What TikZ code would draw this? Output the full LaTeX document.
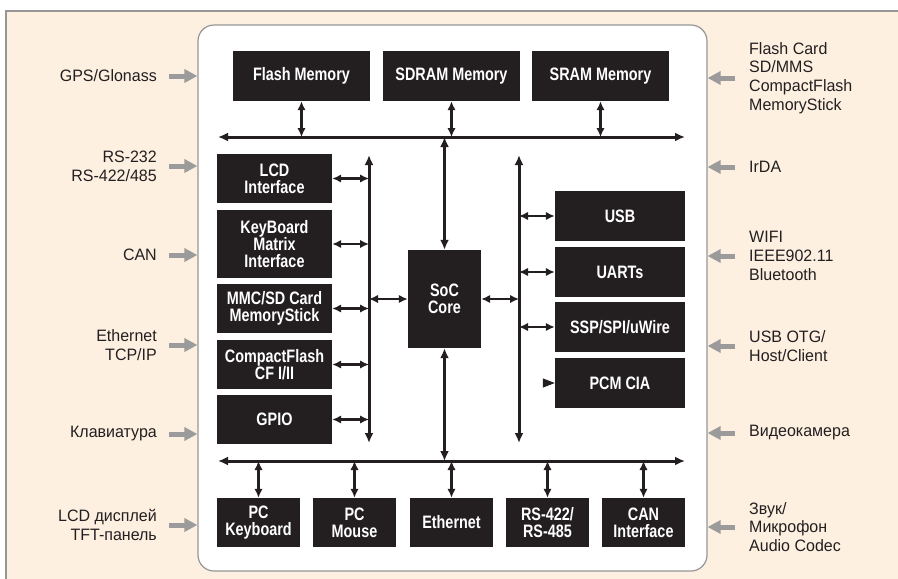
\documentclass[tikz,border=0pt]{standalone}
\usepackage{fontspec}
\setmainfont{Liberation Sans}[FakeStretch=0.97]
\newfontfamily\blockfont{Liberation Sans}[FakeStretch=0.8]
\usepackage{tikz}
\usetikzlibrary{positioning,calc}
\usetikzlibrary{arrows.meta}
\definecolor{beige}{RGB}{253,240,225}
\definecolor{framegray}{RGB}{150,150,150}
\definecolor{blockblack}{RGB}{35,31,32}
\definecolor{pingray}{RGB}{155,155,155}
\tikzstyle{bus} = [line width=3pt,blockblack,{Latex[length=10pt,width=9pt]}-{Latex[length=10pt,width=9pt]}]
\tikzstyle{link} = [line width=2.4pt,blockblack,{Latex[length=9pt,width=8.5pt]}-{Latex[length=9pt,width=8.5pt]}]
\tikzstyle{pin} = [line width=5pt,pingray,-{Triangle[length=13pt,width=13pt]}]

\begin{document}
\begin{tikzpicture}[x=1pt,y=-1pt,
	block/.style={fill=blockblack, text=white, font=\blockfont\bfseries\fontsize{18}{17.3}\selectfont, align=center, inner sep=0pt},
	outer/.style={text=blockblack, font=\fontsize{16.5}{18.7}\selectfont, inner sep=0pt}]
		\useasboundingbox (0,0) rectangle (898,579);
		
		% BACKGROUND
		
		\fill[beige] (6,11) rectangle (898,579);
		\draw[framegray, line width=1.2pt] (6,579) |- (898,11);
		\node [draw=framegray, line width=1.2pt, fill=white, rounded corners=16pt, minimum width=509pt, minimum height=546pt] (board) at (452.5,298) {};
		
		% MEMORIES
		
		\node [block, minimum width=137pt, minimum height=50pt] (flash) at (301.5,76) {Flash Memory};
		\node [block, minimum width=137pt, minimum height=50pt] (sdram) at (451.5,76) {SDRAM Memory};
		\node [block, minimum width=137pt, minimum height=50pt] (sram) at (600.5,76) {SRAM Memory};
		
		% LEFT BLOCKS
		
		\node [block, minimum width=115pt, minimum height=49pt] (lcd) at (274.5,178.5) {LCD\\Interface};
		\node [block, minimum width=115pt, minimum height=68pt] (keyboard) at (274.5,244) {KeyBoard\\Matrix\\Interface};
		\node [block, minimum width=115pt, minimum height=49pt] (mmc) at (274.5,308.5) {MMC/SD Card\\MemoryStick};
		\node [block, minimum width=115pt, minimum height=49pt] (cf) at (274.5,364.5) {CompactFlash\\CF I/II};
		\node [block, minimum width=115pt, minimum height=49pt] (gpio) at (274.5,419.5) {GPIO};
		
		% CORE
		
		\node [block, minimum width=73pt, minimum height=98pt] (soc) at (444.5,299) {SoC\\Core};
		
		% RIGHT BLOCKS
		
		\node [block, minimum width=130pt, minimum height=50pt] (usb) at (620,216) {USB};
		\node [block, minimum width=130pt, minimum height=50pt] (uarts) at (620,272) {UARTs};
		\node [block, minimum width=130pt, minimum height=50pt] (ssp) at (620,327) {SSP/SPI/uWire};
		\node [block, minimum width=130pt, minimum height=50pt] (pcm) at (620,383) {PCM CIA};
		
		% BOTTOM BLOCKS
		
		\node [block, minimum width=83pt, minimum height=49pt] (pckbd) at (258.5,522.5) {PC\\Keyboard};
		\node [block, minimum width=83pt, minimum height=49pt] (pcmouse) at (354.5,522.5) {PC\\Mouse};
		\node [block, minimum width=83pt, minimum height=49pt] (ethernet) at (451.5,522.5) {Ethernet};
		\node [block, minimum width=83pt, minimum height=49pt] (rs) at (547.5,522.5) {RS-422/\\RS-485};
		\node [block, minimum width=83pt, minimum height=49pt] (can) at (643.5,522.5) {CAN\\Interface};
		
		% BUSES
		
		\coordinate (topbusL) at (218,137);
		\coordinate (topbusR) at (685,137);
		\coordinate (botbusL) at (218,461);
		\coordinate (botbusR) at (685,461);
		\coordinate (lbusT) at (369,155);
		\coordinate (lbusB) at (369,443);
		\coordinate (rbusT) at (519,155);
		\coordinate (rbusB) at (519,443);
		\draw[bus] (topbusL) -- (topbusR);
		\draw[bus] (botbusL) -- (botbusR);
		\draw[bus] (lbusT) -- (lbusB);
		\draw[bus] (rbusT) -- (rbusB);
		
		% LINKS
		
		\draw[link] (flash.south) -- (flash.south |- topbusL);
		\draw[link] (sdram.south) -- (sdram.south |- topbusL);
		\draw[link] (sram.south) -- (sram.south |- topbusL);
		\draw[link] (lcd.east) -- (lcd.east -| lbusT);
		\draw[link] (keyboard.east) -- (keyboard.east -| lbusT);
		\draw[link] (mmc.east) -- (mmc.east -| lbusT);
		\draw[link] (cf.east) -- (cf.east -| lbusT);
		\draw[link] (gpio.east) -- (gpio.east -| lbusT);
		\draw[link] (lbusT |- soc.west) -- (soc.west);
		\draw[link] (soc.east) -- (soc.east -| rbusT);
		\draw[bus] (soc.north) -- (soc.north |- topbusL);
		\draw[bus] (soc.south) -- (soc.south |- botbusL);
		\draw[link] (rbusT |- usb.west) -- (usb.west);
		\draw[link] (rbusT |- uarts.west) -- (uarts.west);
		\draw[link] (rbusT |- ssp.west) -- (ssp.west);
		\draw[blockblack, line width=1pt, -{Triangle[length=12pt,width=9pt]}] ([xshift=-12pt]pcm.west) -- (pcm.west);
		\draw[link] (pckbd.north) -- (pckbd.north |- botbusL);
		\draw[link] (pcmouse.north) -- (pcmouse.north |- botbusL);
		\draw[link] (ethernet.north) -- (ethernet.north |- botbusL);
		\draw[link] (rs.north) -- (rs.north |- botbusL);
		\draw[link] (can.north) -- (can.north |- botbusL);
		
		% OUTSIDE WORLD
		
		\node [outer, anchor=east, align=right] (gps) at (157,76) {GPS/Glonass};
		\node [outer, anchor=east, align=right] (rs232) at (157,166) {RS-232\\RS-422/485};
		\node [outer, anchor=east, align=right] (canbus) at (157,255) {CAN};
		\node [outer, anchor=east, align=right] (tcpip) at (157,345) {Ethernet\\TCP/IP};
		\node [outer, anchor=east, align=right] (klav) at (157,434) {Клавиатура};
		\node [outer, anchor=east, align=right] (display) at (157,525) {LCD дисплей\\TFT-панель};
		\node [outer, anchor=west, align=left] (flashcard) at (749,78) {Flash Card\\SD/MMS\\CompactFlash\\MemoryStick};
		\node [outer, anchor=west, align=left] (irda) at (749,167) {IrDA};
		\node [outer, anchor=west, align=left] (wifi) at (749,256) {WIFI\\IEEE902.11\\Bluetooth};
		\node [outer, anchor=west, align=left] (otg) at (749,346) {USB OTG/\\Host/Client};
		\node [outer, anchor=west, align=left] (video) at (749,433) {Видеокамера};
		\node [outer, anchor=west, align=left] (sound) at (749,527) {Звук/\\Микрофон\\Audio Codec};
		
		\draw[pin] ([xshift=12pt]gps.east) -- (gps.east -| board.west);
		\draw[pin] ([xshift=12pt]rs232.east) -- (rs232.east -| board.west);
		\draw[pin] ([xshift=12pt]canbus.east) -- (canbus.east -| board.west);
		\draw[pin] ([xshift=12pt]tcpip.east) -- (tcpip.east -| board.west);
		\draw[pin] ([xshift=12pt]klav.east) -- (klav.east -| board.west);
		\draw[pin] ([xshift=12pt]display.east) -- (display.east -| board.west);
		\draw[pin] ([xshift=-14pt]flashcard.west) -- (flashcard.west -| board.east);
		\draw[pin] ([xshift=-14pt]irda.west) -- (irda.west -| board.east);
		\draw[pin] ([xshift=-14pt]wifi.west) -- (wifi.west -| board.east);
		\draw[pin] ([xshift=-14pt]otg.west) -- (otg.west -| board.east);
		\draw[pin] ([xshift=-14pt]video.west) -- (video.west -| board.east);
		\draw[pin] ([xshift=-14pt]sound.west) -- (sound.west -| board.east);
		
		\end{tikzpicture}
\end{document}
